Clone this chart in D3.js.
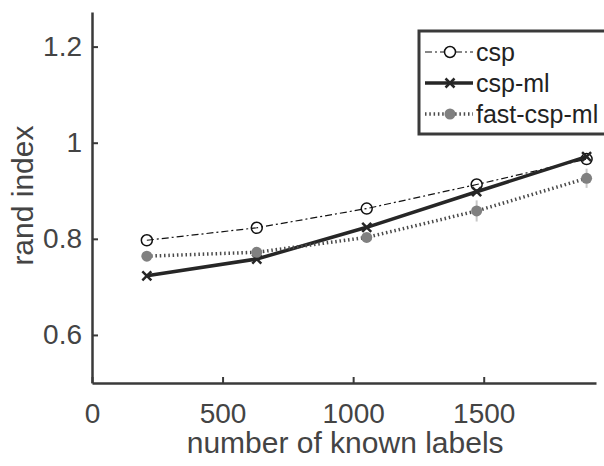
<!DOCTYPE html>
<html>
<head>
<meta charset="utf-8">
<script src="https://cdn.jsdelivr.net/npm/d3@7"></script>
<style>
  body { margin: 0; background: #fff; }
  text { font-family: "Liberation Sans", Arial, sans-serif; }
</style>
</head>
<body>
<svg width="604" height="466"></svg>
<script>
const knownLabels = [210, 631, 1052, 1473, 1894];
const cspVals = [0.797, 0.823, 0.863, 0.913, 0.966];
const cspMlVals = [0.723, 0.758, 0.824, 0.898, 0.971];
const fastVals = [0.764, 0.772, 0.803, 0.858, 0.926];
const fastErr = [0.004, 0.005, 0.007, 0.022, 0.02];
const xTicks = [0, 500, 1000, 1500];
const yTicks = [0.6, 0.8, 1, 1.2];
const seriesNames = ['csp', 'csp-ml', 'fast-csp-ml'];

const svg = d3.select('svg');

const x = d3.scaleLinear().domain([0, 1930]).range([92, 596]);
const y = d3.scaleLinear().domain([0.5, 1.272]).range([383, 12]);

const axisColor = '#3a3a3a';
const tickColor = '#444';

// axes, ticks pointing inward like matlab
const xAxis = svg.append('g')
  .attr('transform', 'translate(0,383)')
  .call(d3.axisBottom(x).tickValues(xTicks).tickFormat(d3.format('d'))
    .tickSizeInner(-6).tickSizeOuter(0).tickPadding(20));
xAxis.select('.domain').attr('stroke', axisColor).attr('stroke-width', 2.5);
xAxis.selectAll('.tick line').attr('stroke', axisColor).attr('stroke-width', 2);
xAxis.selectAll('.tick text')
  .attr('fill', tickColor)
  .style('font-size', '28px')
  .style('font-family', '"Liberation Sans", Arial, sans-serif');

const yAxis = svg.append('g')
  .attr('transform', 'translate(92,0)')
  .call(d3.axisLeft(y).tickValues(yTicks).tickFormat(d3.format('~g'))
    .tickSizeInner(-6).tickSizeOuter(0).tickPadding(10));
yAxis.select('.domain').attr('stroke', axisColor).attr('stroke-width', 2.5);
yAxis.selectAll('.tick line').attr('stroke', axisColor).attr('stroke-width', 2);
yAxis.selectAll('.tick text')
  .attr('fill', tickColor)
  .style('font-size', '28px')
  .style('font-family', '"Liberation Sans", Arial, sans-serif');

svg.append('text')
  .attr('x', x(1000) - 8).attr('y', 453)
  .attr('text-anchor', 'middle')
  .attr('fill', tickColor)
  .style('font-size', '30px')
  .text('number of known labels');

svg.append('text')
  .attr('transform', 'translate(33,' + y(0.89) + ') rotate(-90)')
  .attr('text-anchor', 'middle')
  .attr('fill', tickColor)
  .style('font-size', '30px')
  .text('rand index');

const line = d3.line().x((d, i) => x(knownLabels[i])).y(d => y(d));

// csp
svg.append('path').datum(cspVals)
  .attr('d', line).attr('fill', 'none')
  .attr('stroke', '#111').attr('stroke-width', 1.2)
  .attr('stroke-dasharray', '7,3,2,3');
svg.selectAll('.m-csp').data(cspVals).enter().append('circle')
  .attr('cx', (d, i) => x(knownLabels[i])).attr('cy', d => y(d))
  .attr('r', 5.5).attr('fill', 'none').attr('stroke', '#111').attr('stroke-width', 1.5);

// csp-ml
svg.append('path').datum(cspMlVals)
  .attr('d', line).attr('fill', 'none')
  .attr('stroke', '#262626').attr('stroke-width', 3.5);
const cross = (g, cx, cy, s) => {
  g.append('path')
    .attr('d', `M${cx - s},${cy - s}L${cx + s},${cy + s}M${cx - s},${cy + s}L${cx + s},${cy - s}`)
    .attr('stroke', '#262626').attr('stroke-width', 2.5).attr('fill', 'none');
};
cspMlVals.forEach((d, i) => cross(svg, x(knownLabels[i]), y(d), 4.5));

// fast-csp-ml
svg.selectAll('.err').data(fastVals).enter().append('line')
  .attr('x1', (d, i) => x(knownLabels[i])).attr('x2', (d, i) => x(knownLabels[i]))
  .attr('y1', (d, i) => y(d - fastErr[i])).attr('y2', (d, i) => y(d + fastErr[i]))
  .attr('stroke', '#c8c8c8').attr('stroke-width', 2);
svg.append('path').datum(fastVals)
  .attr('d', line).attr('fill', 'none')
  .attr('stroke', '#4a4a4a').attr('stroke-width', 3.5)
  .attr('stroke-dasharray', '1.5,2.8');
svg.selectAll('.m-fast').data(fastVals).enter().append('circle')
  .attr('cx', (d, i) => x(knownLabels[i])).attr('cy', d => y(d))
  .attr('r', 5.5).attr('fill', '#808080');

// legend
const lg = svg.append('g');
lg.append('rect')
  .attr('x', 419).attr('y', 31).attr('width', 190).attr('height', 103)
  .attr('fill', '#fff').attr('stroke', '#3a3a3a').attr('stroke-width', 3);
const rows = [52, 83, 114];
rows.forEach((ry, i) => {
  const sample = lg.append('line').attr('x1', 425).attr('x2', 473).attr('y1', ry).attr('y2', ry);
  if (i === 0) {
    sample.attr('stroke', '#111').attr('stroke-width', 1.2).attr('stroke-dasharray', '7,3,2,3');
    lg.append('circle').attr('cx', 450).attr('cy', ry).attr('r', 5.5)
      .attr('fill', '#fff').attr('stroke', '#111').attr('stroke-width', 1.5);
  } else if (i === 1) {
    sample.attr('stroke', '#262626').attr('stroke-width', 3.5);
    cross(lg, 450, ry, 4.5);
  } else {
    sample.attr('stroke', '#4a4a4a').attr('stroke-width', 3.5).attr('stroke-dasharray', '1.5,2.8');
    lg.append('circle').attr('cx', 450).attr('cy', ry).attr('r', 5.5).attr('fill', '#808080');
  }
  lg.append('text').attr('x', 476).attr('y', ry + 9)
    .attr('fill', '#222').style('font-size', '25px')
    .text(seriesNames[i]);
});
</script>
</body>
</html>
